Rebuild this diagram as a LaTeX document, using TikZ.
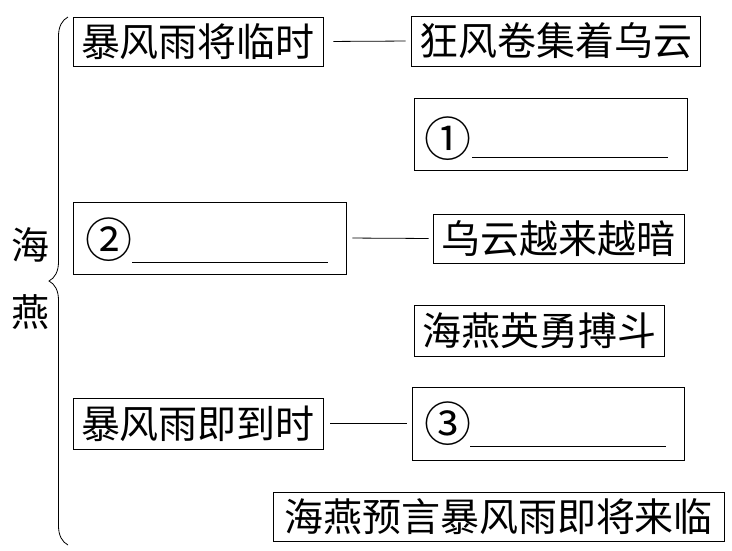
\documentclass[tikz,border=0pt]{standalone}
\usepackage{fontspec}
\newfontfamily\cjk{Noto Sans CJK SC}
\usepackage{tikz}
\usetikzlibrary{decorations.pathreplacing}

\begin{document}
\begin{tikzpicture}[x=1pt, y=-1pt,
    box/.style={draw, line width=0.8pt, inner sep=0pt, font=\cjk\fontsize{39}{42}\selectfont},
    num/.style={inner sep=0pt, font=\cjk\fontsize{47}{50}\selectfont},
    link/.style={line width=0.8pt, shorten <=7pt, shorten >=5pt}]
            \useasboundingbox (0,0) rectangle (732,550);
            % title on the left
            \node[num, font=\cjk\fontsize{38}{40}\selectfont] (hai) at (30,245) {海};
            \node[num, font=\cjk\fontsize{38}{40}\selectfont] (yan) at (30,312) {燕};
            \coordinate (top) at (68,17);
            \coordinate (bot) at (68,545);
            \draw[line width=0.8pt, decorate, decoration={brace, amplitude=19pt}] (bot) -- (top);
            % boxes
            \node[box, minimum width=250pt, minimum height=49pt] (b1) at (198,41.5) {暴风雨将临时};
            \node[box, minimum width=289pt, minimum height=50pt] (b2) at (555.5,41) {狂风卷集着乌云};
            \node[box, minimum width=273pt, minimum height=72pt] (a1) at (550.5,134) {};
            \node[box, minimum width=273pt, minimum height=72pt] (a2) at (209.5,238) {};
            \node[box, minimum width=251pt, minimum height=49pt] (b5) at (558.5,238.5) {乌云越来越暗};
            \node[box, minimum width=250pt, minimum height=51pt] (b6) at (539,330.5) {海燕英勇搏斗};
            \node[box, minimum width=250pt, minimum height=51pt] (b7) at (198,423.5) {暴风雨即到时};
            \node[box, minimum width=272pt, minimum height=73pt] (a3) at (548,423.5) {};
            \node[box, minimum width=451pt, minimum height=49pt] (b9) at (498.5,516.5) {海燕预言暴风雨即将来临};
            % blanks
            \node[num] (n1) at (448,139) {①};
            \node[num] (n2) at (109,240) {②};
            \node[num] (n3) at (448,424) {③};
            \draw[line width=0.8pt] (472,157) -- (668,157);
            \draw[line width=0.8pt] (132,262) -- (328,262);
            \draw[line width=0.8pt] (470,446) -- (666,446);
            % links
            \draw[link, shorten <=10pt] (b1.east) -- (b2.west);
            \draw[link, shorten <=6pt, shorten >=4pt] (a2.east) -- (b5.west);
            \draw[link] (b7.east) -- (a3.west);
        \end{tikzpicture}
\end{document}
